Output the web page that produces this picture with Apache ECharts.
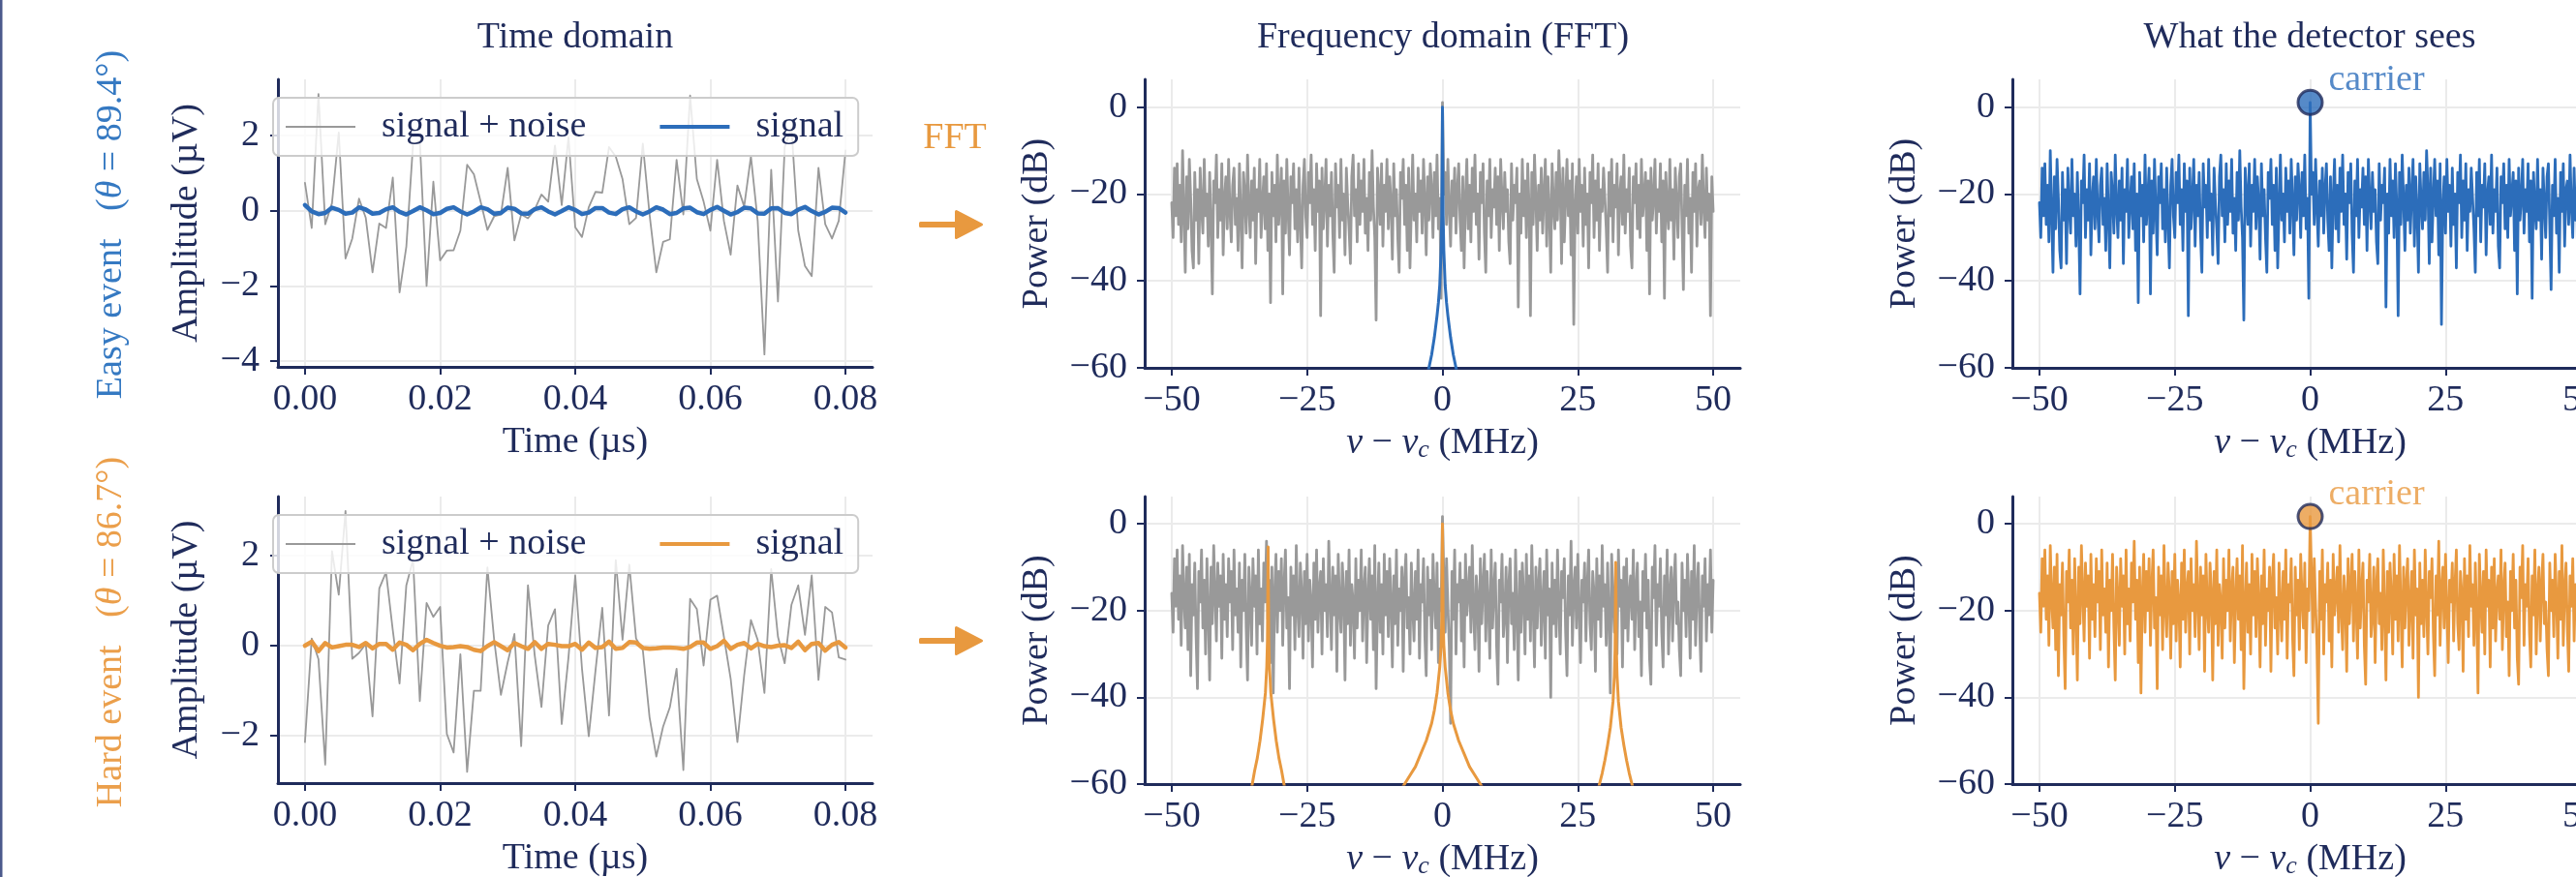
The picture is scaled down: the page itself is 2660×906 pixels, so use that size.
<!DOCTYPE html>
<html>
<head>
<meta charset="utf-8">
<script src="https://cdn.jsdelivr.net/npm/echarts@6/dist/echarts.min.js"></script>
<style>
  html, body { margin: 0; padding: 0; background: #ffffff; }
  #chart { width: 2660px; height: 906px; }
</style>
</head>
<body>
<div id="chart"></div>
<script>
// ---------- time-domain traces: one sample per ns, amplitude in µV ----------
const SAMPLE_DT_US = 0.001;

const EASY_NOISY = [
  0.74, -0.46, 3.1, -0.36, 0.2, 2.08, -1.27, -0.74, 0.32, -0.19,
  -1.64, -0.34, -0.46, 0.88, -2.17, -0.96, 1.78, 1.86, -2.0, 0.77,
  -1.32, -1.06, -1.05, -0.53, 1.22, 0.97, 0.24, -0.51, -0.15, -0.1,
  1.14, -0.79, -0.1, -0.2, 0.03, 0.43, 0.24, 1.73, 0.15, 1.95,
  -0.44, -0.7, 0.09, 0.5, 0.48, 1.69, 1.44, 0.84, -0.36, -0.19,
  1.78, -0.1, -1.64, -0.83, -0.76, 1.35, -0.1, 3.06, 0.84, 0.24,
  -0.53, 1.35, -0.27, -1.17, 0.67, 0.11, 1.44, -0.27, -3.82, 1.09,
  -2.41, 1.69, 2.2, -0.53, -1.47, -1.74, 1.14, -0.36, -0.74, -0.27,
  1.6
];
const EASY_SIGNAL = [
  0.15, -0.02, -0.09, -0.06, 0.08, 0.02, -0.08, -0.05, 0.09, 0.03,
  -0.08, -0.06, 0.04, 0.09, -0.03, -0.1, -0.01, 0.09, 0.01, -0.09,
  -0.06, 0.05, 0.09, -0.02, -0.1, -0.02, 0.09, 0.04, -0.08, -0.06,
  0.08, 0.05, -0.07, -0.08, 0.04, 0.09, -0.02, -0.1, -0.01, 0.09,
  0.02, -0.09, -0.05, 0.07, 0.07, -0.05, -0.09, 0.04, 0.09, -0.02,
  -0.1, -0.02, 0.09, 0.03, -0.09, -0.06, 0.06, 0.08, -0.04, -0.09,
  0.02, 0.1, 0.0, -0.1, -0.04, 0.08, 0.06, -0.07, -0.08, 0.06,
  0.07, -0.06, -0.09, 0.03, 0.1, -0.01, -0.1, -0.03, 0.08, 0.07,
  -0.05
];
const HARD_NOISY = [
  -2.14, 0.16, -0.3, -2.64, 2.1, 1.13, 2.99, -0.29, -0.16, 0.04,
  -1.57, 1.27, 1.63, 0.34, -0.84, 1.34, 1.91, -1.23, 0.95, 0.64,
  0.86, -1.96, -2.37, -0.19, -2.8, -1.0, -1.0, 1.74, 0.13, -1.09,
  -0.37, 0.26, -2.23, 1.34, -0.21, -1.36, 0.45, 0.81, -1.74, -0.26,
  1.56, -0.51, -2.01, -0.55, 0.84, -1.55, 1.9, 0.13, 1.8, 0.16,
  -0.09, -1.59, -2.46, -1.8, -1.37, -0.51, -2.76, 1.04, 0.81, -0.44,
  1.02, 1.11, 0.2, -0.73, -2.14, -0.66, 0.57, 0.13, -1.05, 1.7,
  0.2, -0.39, 0.91, 1.34, 0.24, 1.56, -0.76, 0.86, 0.74, -0.26,
  -0.31
];
const HARD_SIGNAL = [
  0.0, 0.09, -0.12, 0.06, -0.04, -0.01, 0.02, 0.02, -0.03, 0.06,
  -0.06, 0.04, 0.04, -0.09, 0.07, 0.02, -0.1, 0.04, 0.13, 0.06,
  0.0, -0.04, -0.03, -0.01, -0.03, -0.09, -0.12, -0.01, 0.08, -0.01,
  -0.1, 0.06, -0.01, -0.07, 0.08, -0.07, 0.04, 0.02, -0.01, -0.01,
  0.04, -0.09, 0.07, -0.05, -0.03, 0.09, -0.07, -0.05, 0.08, 0.07,
  -0.05, -0.07, -0.06, -0.04, -0.04, -0.05, -0.07, -0.03, 0.07, 0.07,
  -0.07, -0.01, 0.11, -0.07, 0.02, 0.06, -0.06, 0.04, -0.01, -0.03,
  0.0, 0.01, -0.05, 0.09, -0.1, 0.04, 0.06, -0.11, 0.02, 0.08,
  -0.04
];

// ---------- measured spectra: 0.25 MHz bins from -50 to +50 MHz, in dB ----------
const FREQ_START_MHZ = -50;
const FREQ_STEP_MHZ = 0.25;

const EASY_SPECTRUM_DB = [
  -22,-30,-14,-25,-13,-27,-18,-31,-10,-24,-38,-16,-28,-12,-21,-33,-37,-15,-26,-19,
  -36,-14,-23,-29,-12,-25,-20,-32,-15,-27,-43,-17,-22,-11,-30,-19,-26,-13,-34,-21,
  -16,-28,-12,-24,-31,-18,-14,-27,-21,-33,-13,-25,-37,-15,-20,-29,-11,-23,-30,-17,
  -26,-14,-36,-19,-24,-12,-30,-22,-16,-28,-13,-33,-20,-45,-15,-25,-18,-31,-11,-27,
  -21,-14,-43,-17,-29,-12,-24,-34,-16,-22,-13,-28,-19,-31,-14,-26,-37,-18,-12,-25,
  -30,-15,-22,-11,-27,-19,-33,-13,-24,-17,-48,-14,-28,-21,-12,-32,-18,-25,-15,-29,
  -38,-13,-23,-18,-30,-12,-26,-20,-34,-14,-22,-28,-36,-16,-11,-25,-19,-31,-13,-27,
  -17,-24,-12,-29,-21,-33,-15,-26,-10,-23,-30,-49,-14,-20,-27,-13,-32,-18,-24,-12,
  -28,-16,-22,-35,-13,-25,-19,-30,-38,-15,-21,-12,-27,-18,-33,-14,-37,-23,-11,-26,
  -20,-31,-14,-24,-17,-29,-12,-22,-34,-16,-26,-13,-19,-30,-15,-25,-11,-28,-21,-44,
  1.1,-20,-15,-27,-12,-23,-32,-17,-25,-14,-29,-19,-13,-26,-33,-16,-37,-21,-12,-28,
  -18,-31,-14,-24,-11,-27,-20,-35,-15,-22,-13,-29,-38,-17,-25,-12,-30,-19,-23,-14,
  -27,-16,-33,-12,-21,-28,-15,-24,-19,-31,-36,-13,-26,-18,-22,-14,-46,-20,-29,-12,
  -25,-17,-30,-13,-23,-48,-15,-27,-11,-21,-33,-18,-26,-14,-29,-20,-12,-32,-16,-24,
  -38,-13,-22,-28,-15,-26,-10,-19,-36,-14,-31,-21,-12,-25,-17,-34,-13,-50,-23,-16,
  -29,-12,-24,-18,-32,-14,-27,-20,-37,-15,-22,-11,-30,-17,-26,-13,-33,-19,-24,-14,
  -21,-28,-38,-15,-25,-12,-31,-18,-23,-13,-34,-20,-16,-27,-11,-29,-19,-24,-14,-32,
  -37,-16,-22,-13,-28,-18,-30,-12,-25,-20,-15,-33,-17,-43,-14,-26,-21,-12,-29,-19,
  -24,-13,-31,-17,-44,-15,-23,-28,-12,-26,-19,-35,-14,-22,-30,-16,-13,-27,-42,-18,
  -25,-12,-29,-21,-38,-15,-24,-13,-32,-19,-17,-27,-11,-23,-30,-14,-26,-20,-48,-16,
  -24
];
const HARD_SPECTRUM_DB = [
  -16,-25,-8,-19,-6,-22,-12,-28,-5,-17,-24,-10,-29,-7,-35,-14,-21,-9,-26,-38,
  -11,-18,-6,-24,-13,-30,-8,-20,-36,-10,-23,-5,-16,-27,-9,-19,-12,-31,-7,-22,
  -14,-26,-8,-18,-11,-29,-6,-21,-15,-25,-9,-33,-13,-20,-7,-24,-36,-10,-17,-28,
  -8,-19,-12,-30,-6,-23,-15,-27,-9,-18,-4,-22,-13,-32,-10,-39,-16,-7,-25,-11,
  -20,-8,-28,-14,-6,-24,-17,-38,-10,-21,-12,-29,-5,-19,-26,-9,-16,-31,-11,-23,
  -7,-27,-13,-18,-33,-9,-22,-6,-25,-15,-11,-30,-8,-20,-14,-26,-4,-17,-29,-10,
  -21,-12,-34,-7,-19,-25,-9,-16,-36,-11,-23,-6,-28,-14,-18,-31,-8,-24,-13,-20,
  -6,-27,-15,-10,-32,-17,-8,-22,-12,-29,-5,-38,-19,-9,-25,-14,-30,-7,-21,-11,
  -26,-8,-18,-33,-12,-23,-6,-28,-15,-20,-10,-34,-13,-7,-24,-17,-30,-9,-19,-27,
  -11,-22,-6,-31,-14,-18,-8,-26,-35,-10,-21,-13,-29,-7,-17,-24,-9,-32,-15,-20,
  1.7,-12,-25,-8,-19,-28,-46,-11,-22,-6,-30,-14,-18,-9,-27,-13,-33,-7,-21,-16,
  -10,-25,-5,-20,-29,-12,-17,-34,-8,-23,-14,-7,-27,-11,-19,-31,-6,-24,-15,-9,
  -28,-37,-13,-18,-7,-26,-21,-10,-32,-14,-8,-23,-16,-29,-6,-20,-36,-11,-25,-9,
  -17,-30,-7,-22,-12,-27,-5,-19,-33,-10,-24,-14,-8,-28,-18,-11,-31,-6,-21,-15,
  -40,-9,-23,-13,-26,-6,-19,-30,-11,-17,-8,-25,-35,-12,-21,-4,-28,-15,-10,-24,
  -7,-20,-32,-13,-18,-9,-27,-14,-6,-23,-29,-11,-16,-34,-8,-22,-12,-26,-5,-19,
  -14,-28,-9,-21,-39,-7,-17,-25,-11,-30,-6,-19,-13,-33,-10,-24,-8,-27,-16,-12,
  -22,-6,-29,-15,-9,-26,-18,-35,-11,-20,-7,-24,-13,-31,-37,-10,-17,-5,-28,-14,
  -19,-8,-25,-33,-12,-21,-6,-30,-16,-10,-27,-14,-7,-23,-18,-29,-35,-9,-20,-13,
  -26,-7,-17,-31,-11,-22,-5,-28,-15,-9,-24,-34,-12,-19,-8,-27,-14,-21,-6,-25,
  -13
];

// ---------- clean-signal spectra (MHz, dB) ----------
const EASY_SIG_FREQ = [-3, -2.5, -2, -1.5, -1, -0.75, -0.5, -0.25, -0.125, 0,
                       0.125, 0.25, 0.5, 0.75, 1, 1.5, 2, 2.5, 3];
const EASY_SIG_DB   = [-63, -60, -57, -53, -48, -45, -41, -33, -25, 0,
                       -25, -33, -41, -45, -48, -53, -57, -60, -63];

const HARD_SIG_FREQ = [
  -36, -35.2, -34.7, -34.2, -33.7, -33.2, -32.7, -32.45, -32.325, -32.2,
  -32.075, -31.95, -31.7, -31.2, -30.7, -30.2, -29.7, -29.2, -28.4,
  -16,
  -8, -7, -6, -5, -4, -3, -2, -1.5, -1, -0.5, -0.25, -0.125, 0,
  0.125, 0.25, 0.5, 1, 1.5, 2, 3, 4, 5, 6, 7, 8,
  16,
  28.2, 29, 29.5, 30, 30.5, 31, 31.5, 31.75, 31.875, 32,
  32.125, 32.25, 32.5, 33, 33.5, 34, 34.5, 35, 35.8
];
const HARD_SIG_DB = [
  -65, -60.5, -57, -54, -50, -45, -39, -33, -27, -5.3,
  -27, -33, -39, -45, -50, -54, -57, -60.5, -65,
  -90,
  -62, -60, -58, -56, -53, -50, -46, -43, -39, -33, -28, -22, 0,
  -22, -28, -33, -39, -43, -46, -50, -53, -56, -58, -60, -62,
  -90,
  -64, -60, -57.5, -54.5, -51, -47, -41, -35, -29, -8.9,
  -29, -35, -41, -47, -51, -54.5, -57.5, -60, -64
];

// ---------- tick positions ----------
const TIME_TICKS = [0, 0.02, 0.04, 0.06, 0.08];
const EASY_AMP_TICKS = [-4, -2, 0, 2];
const HARD_AMP_TICKS = [-2, 0, 2];
const FREQ_TICKS = [-50, -25, 0, 25, 50];
const POWER_TICKS = [-60, -40, -20, 0];

// ---------- styling ----------
const NAVY = '#1f2b5b';
const BLUE = '#2c6dba';
const ORANGE = '#e8993f';
const GREY = '#999999';
const GRIDLINE = '#ebebeb';
const FONT = "'Liberation Serif', 'DejaVu Serif', serif";
const FS = 38;

const minus = v => String(v).replace('-', '\u2212');
const zip = (xs, ys) => xs.map((x, i) => [x, ys[i]]);
const timeSeries = vals => vals.map((v, k) => [k * SAMPLE_DT_US, v]);
const FREQ_MHZ = EASY_SPECTRUM_DB.map((_, i) => FREQ_START_MHZ + i * FREQ_STEP_MHZ);
const CARRIER_BIN = FREQ_MHZ.indexOf(0);

const GRIDS = [
  { left: 287,  top: 82,  width: 614, height: 297 },
  { left: 1182, top: 82,  width: 615, height: 298 },
  { left: 2078, top: 82,  width: 615, height: 298 },
  { left: 287,  top: 513, width: 614, height: 296 },
  { left: 1182, top: 513, width: 615, height: 297 },
  { left: 2078, top: 513, width: 615, height: 297 }
].map(g => Object.assign({ outerBoundsMode: 'none', containLabel: false }, g));

const freqName = '{i|\u03bd} \u2212 {i|\u03bd}{s|c} (MHz)';
const freqRich = {
  i: { fontStyle: 'italic', fontSize: FS, fontFamily: FONT, color: NAVY, lineHeight: 40 },
  s: { fontStyle: 'italic', fontSize: 26, fontFamily: FONT, color: NAVY, verticalAlign: 'bottom', lineHeight: 20 }
};

function axis(kind, gi, min, max, ticks, fmt, name, nameGap, margin, rich) {
  return {
    type: 'value', gridIndex: gi, min, max,
    position: kind === 'x' ? 'bottom' : 'left',
    axisLine: { show: true, onZero: false, lineStyle: { color: NAVY, width: 3 } },
    axisTick: { show: true, length: 8, customValues: ticks, lineStyle: { color: NAVY, width: 2 } },
    axisLabel: { customValues: ticks, formatter: fmt, color: NAVY, fontSize: FS, fontFamily: FONT, margin },
    splitLine: { show: true, lineStyle: { color: GRIDLINE, width: 2 } },
    name, nameLocation: 'middle', nameGap, nameMoveOverlap: false,
    nameTextStyle: Object.assign({ color: NAVY, fontSize: FS, fontFamily: FONT, lineHeight: 40 }, rich ? { rich } : {})
  };
}

const timeFmt = v => v.toFixed(2);
const xAxes = [
  axis('x', 0, -0.004, 0.084, TIME_TICKS, timeFmt, 'Time (\u00b5s)', 58, 15),
  axis('x', 1, -55, 55, FREQ_TICKS, minus, freqName, 58, 15, freqRich),
  axis('x', 2, -55, 55, FREQ_TICKS, minus, freqName, 58, 15, freqRich),
  axis('x', 3, -0.004, 0.084, TIME_TICKS, timeFmt, 'Time (\u00b5s)', 58, 15),
  axis('x', 4, -55, 55, FREQ_TICKS, minus, freqName, 58, 15, freqRich),
  axis('x', 5, -55, 55, FREQ_TICKS, minus, freqName, 58, 15, freqRich)
];
const yAxes = [
  axis('y', 0, -4.15, 3.49, EASY_AMP_TICKS, minus, 'Amplitude (\u00b5V)', 74, 19),
  axis('y', 1, -60, 6.4, POWER_TICKS, minus, 'Power (dB)', 91, 18),
  axis('y', 2, -60, 6.4, POWER_TICKS, minus, 'Power (dB)', 91, 18),
  axis('y', 3, -3.05, 3.31, HARD_AMP_TICKS, minus, 'Amplitude (\u00b5V)', 74, 19),
  axis('y', 4, -60, 6.3, POWER_TICKS, minus, 'Power (dB)', 91, 18),
  axis('y', 5, -60, 6.3, POWER_TICKS, minus, 'Power (dB)', 91, 18)
];

function line(name, gi, data, color, width, z) {
  return {
    type: 'line', name, xAxisIndex: gi, yAxisIndex: gi, data,
    symbol: 'none', showSymbol: false, clip: true, silent: true, z,
    color, itemStyle: { color },
    lineStyle: { color, width, join: 'round', cap: 'round' },
    emphasis: { disabled: true }
  };
}
function carrier(gi, db, color) {
  return {
    type: 'scatter', xAxisIndex: gi, yAxisIndex: gi, silent: true, z: 6,
    data: [[0, db]], symbol: 'circle', symbolSize: 25,
    itemStyle: { color, borderColor: NAVY, borderWidth: 3 },
    label: { show: true, position: 'right', distance: 5, offset: [0, -23], formatter: 'carrier',
             color, fontSize: FS, fontFamily: FONT },
    emphasis: { disabled: true }
  };
}

const series = [
  line('Easy|signal + noise', 0, timeSeries(EASY_NOISY), GREY, 1.8, 2),
  line('Easy|signal', 0, timeSeries(EASY_SIGNAL), BLUE, 4.5, 3),
  line('Easy spectrum', 1, zip(FREQ_MHZ, EASY_SPECTRUM_DB), GREY, 2.8, 2),
  line('Easy clean spectrum', 1, zip(EASY_SIG_FREQ, EASY_SIG_DB), BLUE, 3, 3),
  line('Easy detector', 2, zip(FREQ_MHZ, EASY_SPECTRUM_DB), BLUE, 2.8, 2),
  carrier(2, EASY_SPECTRUM_DB[CARRIER_BIN], BLUE),

  line('Hard|signal + noise', 3, timeSeries(HARD_NOISY), GREY, 1.8, 2),
  line('Hard|signal', 3, timeSeries(HARD_SIGNAL), ORANGE, 4.5, 3),
  line('Hard spectrum', 4, zip(FREQ_MHZ, HARD_SPECTRUM_DB), GREY, 2.8, 2),
  line('Hard clean spectrum', 4, zip(HARD_SIG_FREQ, HARD_SIG_DB), ORANGE, 3, 3),
  line('Hard detector', 5, zip(FREQ_MHZ, HARD_SPECTRUM_DB), ORANGE, 2.8, 2),
  carrier(5, HARD_SPECTRUM_DB[CARRIER_BIN], ORANGE)
];

function legend(prefix, top) {
  return {
    left: 282, top, orient: 'horizontal', selectedMode: false,
    itemWidth: 72, itemHeight: 14, itemGap: 76,
    padding: [11, 15, 11, 13],
    backgroundColor: 'rgba(255,255,255,0.8)', borderColor: '#cccccc', borderWidth: 2, borderRadius: 6,
    textStyle: { color: NAVY, fontSize: FS, fontFamily: FONT, padding: [0, 0, 0, 22] },
    formatter: n => n.split('|')[1],
    data: [
      { name: prefix + '|signal + noise', icon: 'path://M0 0H36V1H0Z' },
      { name: prefix + '|signal', icon: 'path://M0 0H18V1H0Z' }
    ]
  };
}

function text(x, y, str, color, extra) {
  return Object.assign({
    type: 'text', x, y, silent: true,
    style: { text: str, fill: color, fontSize: FS, fontFamily: FONT, align: 'center', verticalAlign: 'middle' }
  }, extra || {});
}
function rowLabel(y, event, angle, color) {
  const base = { fontSize: FS, fontFamily: FONT, fill: color, color };
  return {
    type: 'text', x: 115, y, rotation: Math.PI / 2, silent: true,
    style: {
      text: '{n|' + event + '}   {n|(}{i|\u03b8}{n| = ' + angle + '\u00b0)}',
      fill: color, fontSize: FS, fontFamily: FONT, align: 'center', verticalAlign: 'middle',
      rich: { n: base, i: Object.assign({ fontStyle: 'italic' }, base) }
    }
  };
}
function arrow(y) {
  return {
    type: 'polygon', silent: true,
    shape: { points: [[950.5, y - 1.5], [987.5, y - 1.5], [987.5, y - 13.5], [1013.5, y],
                      [987.5, y + 13.5], [987.5, y + 1.5], [950.5, y + 1.5]] },
    style: { fill: ORANGE, stroke: ORANGE, lineWidth: 3, lineJoin: 'round' }
  };
}

const graphics = [
  { type: 'rect', silent: true, shape: { x: 0, y: 0, width: 2.5, height: 906 }, style: { fill: '#4c5a8c' } },
  text(594, 39, 'Time domain', NAVY),
  text(1490, 39, 'Frequency domain (FFT)', NAVY),
  text(2385, 39, 'What the detector sees', NAVY),
  text(986, 143, 'FFT', ORANGE),
  arrow(232),
  arrow(662),
  rowLabel(232, 'Easy event', '89.4', '#3579c2'),
  rowLabel(653, 'Hard event', '86.7', '#eb9f4b')
];

const chart = echarts.init(document.getElementById('chart'), null, { renderer: 'canvas' });
chart.setOption({
  animation: false,
  backgroundColor: '#ffffff',
  grid: GRIDS,
  xAxis: xAxes,
  yAxis: yAxes,
  legend: [legend('Easy', 101), legend('Hard', 532)],
  series,
  graphic: graphics
});
</script>
</body>
</html>
